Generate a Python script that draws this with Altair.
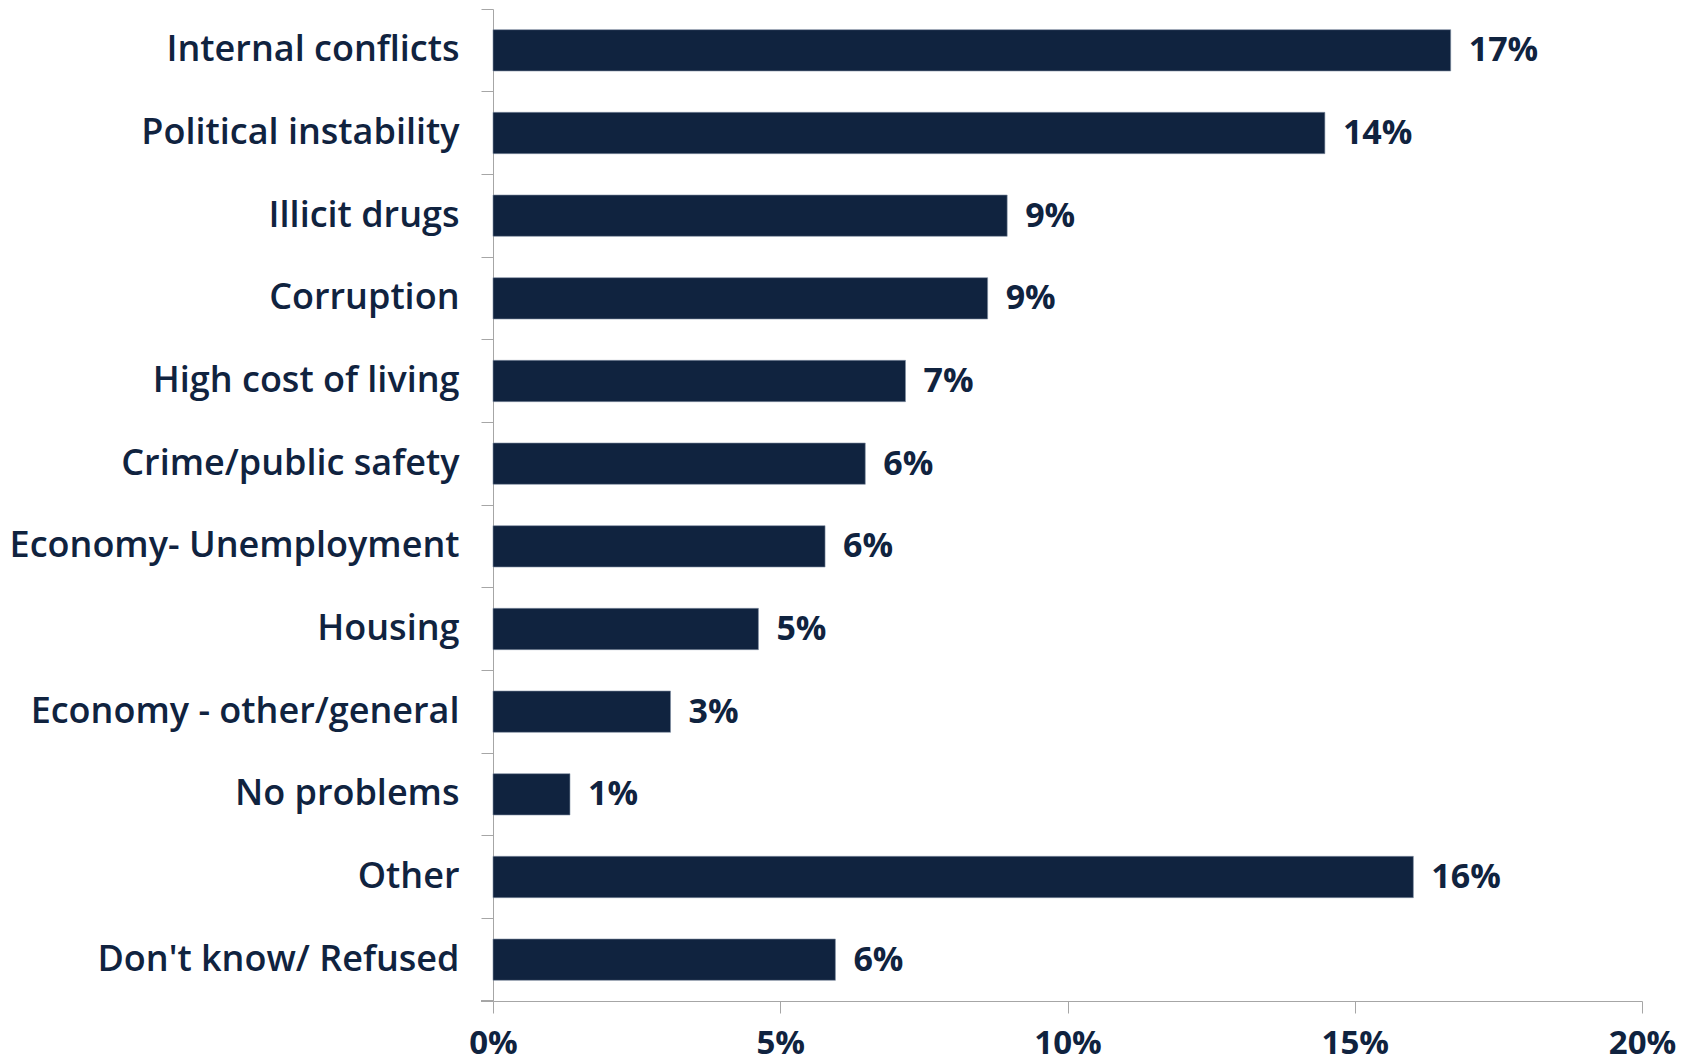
import altair as alt
import pandas as pd

categories = [
    "Internal conflicts", "Political instability", "Illicit drugs", "Corruption",
    "High cost of living", "Crime/public safety", "Economy- Unemployment", "Housing",
    "Economy - other/general", "No problems", "Other", "Don't know/ Refused",
]
values = [0.1667, 0.1448, 0.0895, 0.0861, 0.0718, 0.0648, 0.0578, 0.0462, 0.0309, 0.0134, 0.1602, 0.0596]
x_ticks = [0, 0.05, 0.10, 0.15, 0.20]

df = pd.DataFrame({"cat": categories, "val": values})

NAVY = "#10233f"
GRAY = "#a6a6a6"
FONT = "Open Sans"

y_enc = alt.Y(
    "cat:N", sort=categories, title=None,
    scale=alt.Scale(paddingInner=0, paddingOuter=0),
    axis=alt.Axis(
        bandPosition=1, tickExtra=True, tickSize=12, tickColor=GRAY, domainColor=GRAY,
        labelPadding=22, labelFont=FONT, labelFontSize=36, labelFontWeight=600,
        labelColor=NAVY, labelLimit=600,
    ),
)
x_enc = alt.X(
    "val:Q", title=None,
    scale=alt.Scale(domain=[0, 0.2], nice=False),
    axis=alt.Axis(
        values=x_ticks, format=".0%", grid=False, tickSize=12, tickColor=GRAY,
        domainColor=GRAY, labelPadding=14, labelFont=FONT, labelFontSize=33,
        labelFontWeight=700, labelColor=NAVY, labelFlush=False,
    ),
)

bars = alt.Chart(df).mark_bar(
    color=NAVY, height=alt.RelativeBandSize(0.5), stroke="#7f8ea3", strokeWidth=0.6
).encode(y=y_enc, x=x_enc)

labels = alt.Chart(df).mark_text(
    align="left", baseline="middle", dx=18, dy=1, font=FONT, fontSize=34,
    fontWeight=700, color=NAVY,
).encode(y=alt.Y("cat:N", sort=categories), x="val:Q", text=alt.Text("val:Q", format=".0%"))

bottom_tick = alt.Chart(df).mark_rule(color=GRAY, strokeWidth=1).encode(
    x=alt.value(-12), x2=alt.value(0), y=alt.value(992)
)

chart = alt.layer(bars, labels, bottom_tick).properties(
    width=1149, height=992,
    padding={"left": 485, "top": 1, "right": 40, "bottom": 62},
    autosize=alt.AutoSizeParams(type="none"),
    background="white",
).configure_view(stroke=None)

chart.save("out.html", embed_options={"renderer": "svg", "actions": False})
